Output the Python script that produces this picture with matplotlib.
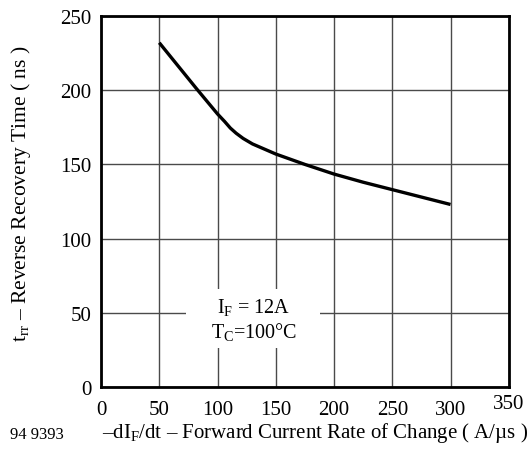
import matplotlib
matplotlib.use("Agg")
import matplotlib.pyplot as plt
from matplotlib.patches import Rectangle
from matplotlib.transforms import ScaledTranslation

plt.rcParams['font.family'] = ['Liberation Serif', 'DejaVu Serif']
plt.rcParams['mathtext.fontset'] = 'custom'
plt.rcParams['mathtext.rm'] = 'Liberation Serif'
plt.rcParams['mathtext.default'] = 'regular'

# curve (A/us vs ns)
di_dt = [50, 82, 100, 106, 111, 116, 122, 130, 150, 175, 200, 225, 250, 275, 300]
t_rr = [232, 201, 184, 179, 174.5, 171, 167.5, 163.8, 157, 150, 143.5, 138, 133, 128, 123]

x_ticks = [0, 50, 100, 150, 200, 250, 300, 350]
y_ticks = [0, 50, 100, 150, 200, 250]

fig = plt.figure(figsize=(5.3, 4.6), dpi=100)
ax = fig.add_axes([0.1906, 0.1565, 0.7694, 0.8065])

ax.plot(di_dt, t_rr, color='black', lw=2.4, solid_capstyle='butt', zorder=4)

ax.set_xlim(0, 350)
ax.set_ylim(0, 250)
ax.set_xticks(x_ticks)
ax.set_yticks(y_ticks)
ax.grid(True, color='#4a4a4a', lw=1.0)
ax.tick_params(length=0, labelsize=15)
ax.tick_params(axis='x', pad=9)
ax.tick_params(axis='y', pad=7)
for s in ax.spines.values():
    s.set_linewidth(2.0)
    s.set_zorder(5)

# the last x label sits a little higher in the original
lab = ax.get_xticklabels()[-1]
lab.set_transform(lab.get_transform() + ScaledTranslation(0, 4 / 72, fig.dpi_scale_trans))

# white patch behind the conditions text
ax.add_patch(Rectangle((73, 26), 115, 40, facecolor='white', edgecolor='none', zorder=2))
ax.text(131, 46, 'I$_F$ = 12A\nT$_C$=100°C', ha='center', va='center',
        fontsize=14.5, linespacing=1.15, zorder=3)

ax.set_ylabel('t$_{rr}$ – Reverse Recovery Time ( ns )', fontsize=15.5)
ax.yaxis.set_label_coords(-0.166, 0.523)
fig.text(0.594, 0.058, '–dI$_F$/dt – Forward Current Rate of Change ( A/µs )',
         ha='center', va='center', fontsize=15)
fig.text(0.018, 0.055, '94 9393', ha='left', va='center', fontsize=12)

fig.savefig('out.png', dpi=100)
